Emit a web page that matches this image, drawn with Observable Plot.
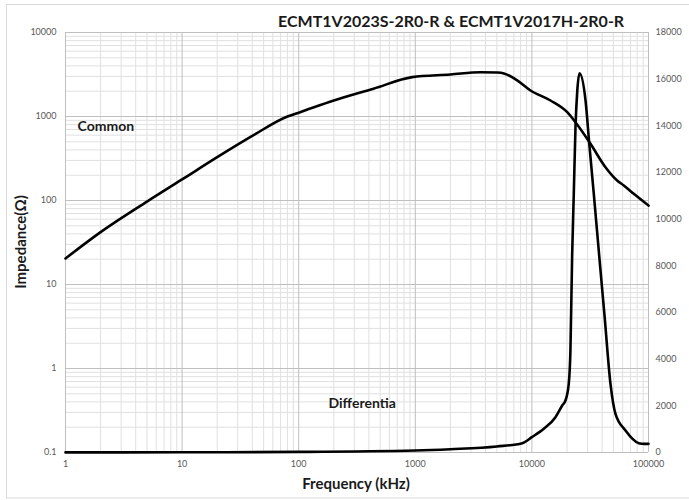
<!DOCTYPE html>
<html><head><meta charset="utf-8">
<script src="https://cdn.jsdelivr.net/npm/d3@7"></script>
<script src="https://cdn.jsdelivr.net/npm/@observablehq/plot@0.6"></script>
<style>
body{margin:0;background:#fff;}
#chart{position:relative;width:689px;height:500px;overflow:hidden;}
</style>
</head><body><div id="chart"></div>
<script>
// Common-mode impedance (left log axis, Ω)
const commonFreq = [1,2,5,10,20,41,80,100,200,438,940,2000,3620,5040,5760,7480,9730,14450,20100,24000,31800,42760,53800,61400,74800,100000];
const commonZ    = [20.4,42,97,178,328,600,1000,1110,1550,2140,2940,3160,3370,3340,3260,2690,2040,1550,1125,830,473,249,173,151,120,87];
// Differential impedance (right linear axis)
const diffFreq = [1,10,100,1000,2000,5000,8260,10000,12650,15930,18200,19400,20700,21400,22130,22870,23650,24500,25600,28840,31050,33950,37670,42070,47200,52100,63500,82600,92000,100000];
const diffZ    = [5,8,25,86,141,257,400,656,1014,1514,2014,2229,2943,4371,8400,11087,13943,15500,16256,15086,13230,11087,8500,5800,2943,1657,943,400,371,371];

const xTicks = [1,10,100,1000,10000,100000];
const yTicks = [0.1,1,10,100,1000,10000];
const rightTicks = [0,2000,4000,6000,8000,10000,12000,14000,16000,18000];
const RIGHT_MAX = 18000;

const title = "ECMT1V2023S-2R0-R & ECMT1V2017H-2R0-R";
const xLabel = "Frequency (kHz)";
const yLabel = "Impedance(Ω)";
const seriesLabels = ["Common", "Differentia"];

// map right-axis linear value onto left log scale position
const toLeft = v => Math.pow(10, -1 + 5 * v / RIGHT_MAX);

const common = commonFreq.map((f, i) => ({f, z: commonZ[i]}));
const diff = diffFreq.map((f, i) => ({f, z: diffZ[i]}));

const xMinor = [], yMinor = [];
for (let e = 0; e < 5; e++) for (let m = 2; m <= 9; m++) xMinor.push(m * Math.pow(10, e));
for (let e = -1; e < 4; e++) for (let m = 2; m <= 9; m++) yMinor.push(+(m * Math.pow(10, e)).toPrecision(3));

const labelPos = [{f: 1.27, z: 760, t: seriesLabels[0]}, {f: 180, z: 0.38, t: seriesLabels[1]}];

const plot = Plot.plot({
  width: 689, height: 500,
  marginLeft: 65, marginRight: 41, marginTop: 32, marginBottom: 48,
  x: {type: "log", domain: [1, 100000]},
  y: {type: "log", domain: [0.1, 10000]},
  style: {fontFamily: "Lato, sans-serif", background: "white", overflow: "visible"},
  marks: [
    Plot.ruleX(xMinor, {stroke: "#e0e0e0", strokeWidth: 1}),
    Plot.ruleY(yMinor, {stroke: "#e0e0e0", strokeWidth: 1}),
    Plot.ruleX(xTicks, {stroke: "#bfbfbf", strokeWidth: 1}),
    Plot.ruleY(yTicks, {stroke: "#bfbfbf", strokeWidth: 1}),
    Plot.axisX(xTicks, {anchor: "bottom", tickSize: 0, tickPadding: 8, tickFormat: d => String(d), fontSize: 9, color: "#595959", label: null}),
    Plot.axisY(yTicks, {anchor: "left", tickSize: 0, tickPadding: 9, tickFormat: d => String(d), fontSize: 9, color: "#595959", label: null}),
    Plot.text(rightTicks, {y: d => toLeft(d), frameAnchor: "right", dx: 7, textAnchor: "start", text: d => String(d), fontSize: 9, fill: "#595959"}),
    Plot.line(common, {x: "f", y: "z", stroke: "black", strokeWidth: 2.6, curve: "monotone-x"}),
    Plot.line(diff, {x: "f", y: d => toLeft(d.z), stroke: "black", strokeWidth: 2.6, curve: "monotone-x"}),
    Plot.text(labelPos, {x: "f", y: "z", text: "t", textAnchor: "start", fontSize: 14, fontWeight: "bold", fill: "#1a1a1a"})
  ]
});

document.getElementById("chart").appendChild(plot);
const svg = d3.select(plot);
svg.insert("rect", ":first-child").attr("x", 6.5).attr("y", 4.5).attr("width", 690).attr("height", 493.5)
  .attr("fill", "white").attr("stroke", "#d9d9d9");
svg.append("text").attr("x", 278).attr("y", 27).attr("text-anchor", "start").attr("font-size", 16).attr("font-weight", "bold")
  .attr("fill", "#1a1a1a").attr("font-family", "Lato, sans-serif").text(title);
svg.append("text").attr("x", 356).attr("y", 489).attr("text-anchor", "middle").attr("font-size", 15).attr("font-weight", "bold")
  .attr("fill", "#1a1a1a").attr("font-family", "Lato, sans-serif").text(xLabel);
svg.append("text").attr("transform", "translate(26,242) rotate(-90)").attr("text-anchor", "middle").attr("font-size", 15).attr("font-weight", "bold")
  .attr("fill", "#1a1a1a").attr("font-family", "Lato, sans-serif").text(yLabel);
</script>
</body></html>
